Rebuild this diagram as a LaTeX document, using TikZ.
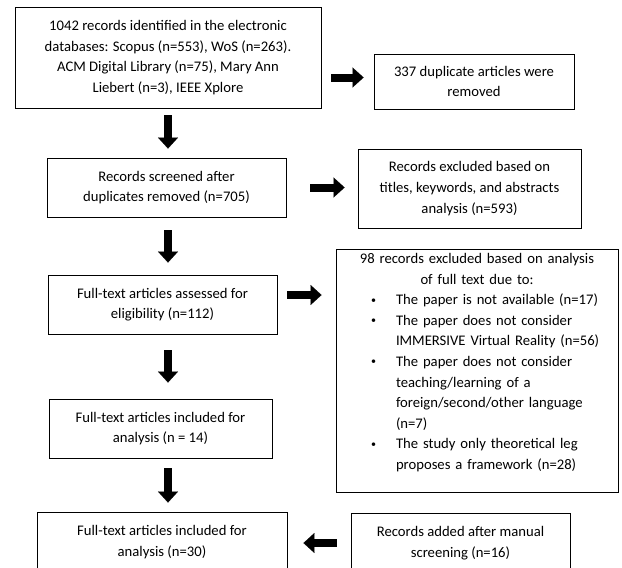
\documentclass[tikz,border=0pt]{standalone}
\usepackage{fontspec}
\setmainfont{Carlito}
\usepackage{enumitem}
\usetikzlibrary{arrows.meta}

\tikzset{
  flowbox/.style={draw, line width=0.9pt, align=center, inner sep=4pt,
    font=\fontsize{14.67pt}{20.6pt}\selectfont},
  blockarrow/.style={line width=8pt, -{Triangle[width=20pt,length=11pt,line width=0.1pt]}},
}
\newcommand{\smallbullet}{{\fontsize{10pt}{10pt}\selectfont\raisebox{1.5pt}{\textbullet}}}

\begin{document}
\begin{tikzpicture}[x=1pt, y=-1pt]
        \useasboundingbox (0,0) rectangle (622,568);

        % Main column
        \node[flowbox, minimum width=306pt, minimum height=101pt] (records) at (168,57.5)
          {1042 records identified in the electronic\\ databases: Scopus (n=553), WoS (n=263).\\ ACM Digital Library (n=75), Mary Ann\\ Liebert (n=3), IEEE Xplore};
        \node[flowbox, minimum width=239pt, minimum height=59pt] (screened) at (166.5,187.5)
          {Records screened after\\ duplicates removed (n=705)};
        \node[flowbox, minimum width=229pt, minimum height=59pt] (assessed) at (162.5,304.5)
          {Full-text articles assessed for\\ eligibility (n=112)};
        \node[flowbox, minimum width=223pt, minimum height=59pt] (includedfirst) at (160.5,428.5)
          {Full-text articles included for\\ analysis (n = 14)};
        \node[flowbox, minimum width=250pt, minimum height=60pt] (includedfinal) at (162,542)
          {Full-text articles included for\\ analysis (n=30)};

        % Side column
        \node[flowbox, minimum width=200pt, minimum height=55pt] (duplicates) at (474,81.5)
          {337 duplicate articles were\\ removed};
        \node[flowbox, minimum width=223pt, minimum height=79pt] (excludedtitles) at (469.5,188.5)
          {Records excluded based on\\ titles, keywords, and abstracts\\ analysis (n=593)};
        \node[flowbox, text width=274pt, minimum height=243pt, align=left] (excludedfull) at (477,370.5)
          {\centering 98 records excluded based on analysis\\ of full text due to:\par
           \begin{itemize}[leftmargin=56pt, labelsep=20pt, topsep=0pt, partopsep=0pt,
                           itemsep=0pt, parsep=0pt, label=\smallbullet]
           \raggedright
           \item The paper is not available (n=17)
           \item The paper does not consider\\ IMMERSIVE Virtual Reality (n=56)
           \item The paper does not consider\\ teaching/learning of a\\ foreign/second/other language\\ (n=7)
           \item The study only theoretical leg\\ proposes a framework (n=28)
           \end{itemize}\par\kern16pt};
        \node[flowbox, minimum width=219pt, minimum height=60pt] (manual) at (460.5,543)
          {Records added after manual\\ screening (n=16)};

        % Down arrows
        \draw[blockarrow, shorten <=7pt, shorten >=9pt] (records.south) -- (records.south |- screened.north);
        \draw[blockarrow, shorten <=13pt, shorten >=12pt] (records.south |- screened.south) -- (records.south |- assessed.north);
        \draw[blockarrow, shorten <=16pt, shorten >=16pt] (records.south |- assessed.south) -- (records.south |- includedfirst.north);
        \draw[blockarrow, shorten <=10pt, shorten >=9pt] (records.south |- includedfirst.south) -- (records.south |- includedfinal.north);

        % Side arrows
        \coordinate (duplicatesin) at ([yshift=4pt]duplicates.west);
        \draw[blockarrow, shorten <=10pt, shorten >=10pt] (duplicatesin -| records.east) -- (duplicatesin);
        \draw[blockarrow, shorten <=24pt, shorten >=13pt] (screened.east) -- (screened.east -| excludedtitles.west);
        \coordinate (assessedout) at ([yshift=9.5pt]assessed.east);
        \draw[blockarrow, shorten <=10pt, shorten >=14pt] (assessedout) -- (assessedout -| excludedfull.west);
        \draw[blockarrow, shorten <=14pt, shorten >=16pt] (manual.west) -- (manual.west -| includedfinal.east);
\end{tikzpicture}
\end{document}
